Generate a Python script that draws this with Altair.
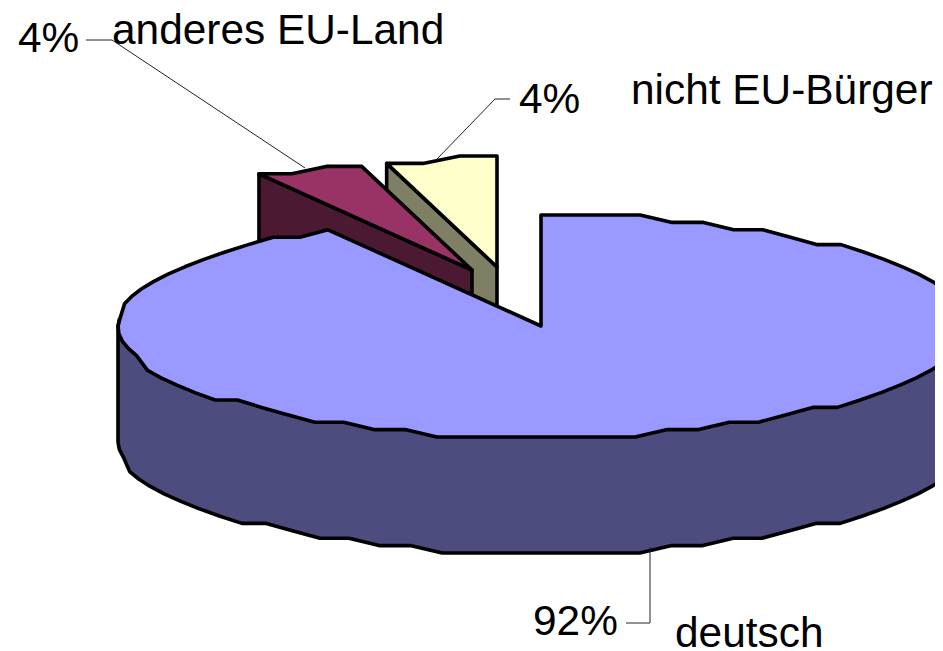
import math
import altair as alt
import pandas as pd

categories = ["deutsch", "anderes EU-Land", "nicht EU-Bürger"]
shares = [91.6, 4.2, 4.2]
share_labels = ["92%", "4%", "4%"]

TOP = {"deutsch": "#9999FF", "anderes EU-Land": "#993366", "nicht EU-Bürger": "#FFFFCC"}
WALL = {"deutsch": "#4C4C7F", "anderes EU-Land": "#4C1933", "nicht EU-Bürger": "#7F7F66"}
RX, DEPTH = 423, 116
RY = {"deutsch": 111, "anderes EU-Land": 108, "nicht EU-Bürger": 108}
APEX = {"deutsch": (541, 326), "anderes EU-Land": (472, 270), "nicht EU-Bürger": (497, 267)}
STEP = 4.5
GRID_Y = 7.4

W, H = 927, 643
xs = alt.Scale(domain=[8, 935], nice=False, zero=False)
ys = alt.Scale(domain=[651, 8], nice=False, zero=False)


def rim(name, a0, a1):
    """Elliptical rim, with y snapped to a coarse grid like the low-resolution original."""
    cx, cy = APEX[name]
    ry = RY[name]
    n = max(2, int(abs(a1 - a0) / STEP))
    out = []
    for i in range(n + 1):
        a = math.radians(a0 + (a1 - a0) * i / n)
        dy = round(ry * math.cos(a) / GRID_Y) * GRID_Y
        out.append((cx + RX * math.sin(a), cy - dy))
    return out


def poly(points, color, width=3.6):
    df = pd.DataFrame({"px": [p[0] for p in points], "py": [p[1] for p in points],
                       "i": list(range(len(points)))})
    return alt.Chart(df).mark_line(
        fill=color, stroke="black", strokeWidth=width, strokeJoin="round",
        interpolate="linear-closed",
    ).encode(
        x=alt.X("px:Q", scale=xs, axis=None),
        y=alt.Y("py:Q", scale=ys, axis=None),
        order="i:Q",
    )


# slice angles, clockwise from 12 o'clock
a_main = shares[0] * 3.6
a_red = a_main + shares[1] * 3.6

layers = []

# yellow slice (exploded)
c = "nicht EU-Bürger"
cx, cy = APEX[c]
edge = rim(c, a_red, 360)
layers.append(poly([(cx, cy), edge[0], (edge[0][0], edge[0][1] + DEPTH), (cx, cy + DEPTH)], WALL[c]))
layers.append(poly([(cx, cy)] + edge, TOP[c]))

# red slice (exploded)
c = "anderes EU-Land"
cx, cy = APEX[c]
edge = rim(c, a_main, a_red)
layers.append(poly([(cx, cy), edge[0], (edge[0][0], edge[0][1] + DEPTH), (cx, cy + DEPTH)], WALL[c]))
layers.append(poly([(cx, cy)] + edge, TOP[c]))

# main slice: the wall's upper edge runs under the top face, so no gap can open between them
c = "deutsch"
cx, cy = APEX[c]
front = rim(c, 90, 270)
upper = [front[0]] + [(p[0], p[1] - 14) for p in front[1:-1]] + [front[-1]]
layers.append(poly(upper + [(p[0], p[1] + DEPTH) for p in reversed(front)], WALL[c]))
layers.append(poly([(cx, cy)] + rim(c, 0, a_main), TOP[c]))

# leader lines
LEADERS = [
    (86, 40, 112, 40), (112, 40, 305, 168),
    (510, 99, 495, 99), (495, 99, 437, 159),
    (650, 547, 650, 623), (650, 623, 626, 623),
]
for x0, y0, x1, y1 in LEADERS:
    layers.append(
        alt.Chart(pd.DataFrame({"a": [0]})).mark_rule(color="#222222", strokeWidth=1).encode(
            x=alt.value(x0 - 8), x2=alt.value(x1 - 8), y=alt.value(y0 - 8), y2=alt.value(y1 - 8)
        )
    )

# texts: (text, left x, baseline y)
TEXTS = [
    (categories[1], 112, 44),
    (share_labels[1], 18, 52),
    (share_labels[2], 519, 113),
    (categories[2], 631, 104),
    (share_labels[0], 533, 635),
    (categories[0], 675, 647),
]
for t, x0, y0 in TEXTS:
    layers.append(
        alt.Chart(pd.DataFrame({"t": [t]})).mark_text(
            align="left", baseline="alphabetic", font="Liberation Sans", fontSize=42.4, color="black",
        ).encode(x=alt.value(x0 - 8), y=alt.value(y0 - 8), text="t:N")
    )

chart = alt.layer(*layers).properties(
    width=W, height=H, background="white", padding=0,
    autosize=alt.AutoSizeParams(type="none"),
).configure_view(stroke=None)

chart.save("out.html", embed_options={"renderer": "svg", "actions": False})
